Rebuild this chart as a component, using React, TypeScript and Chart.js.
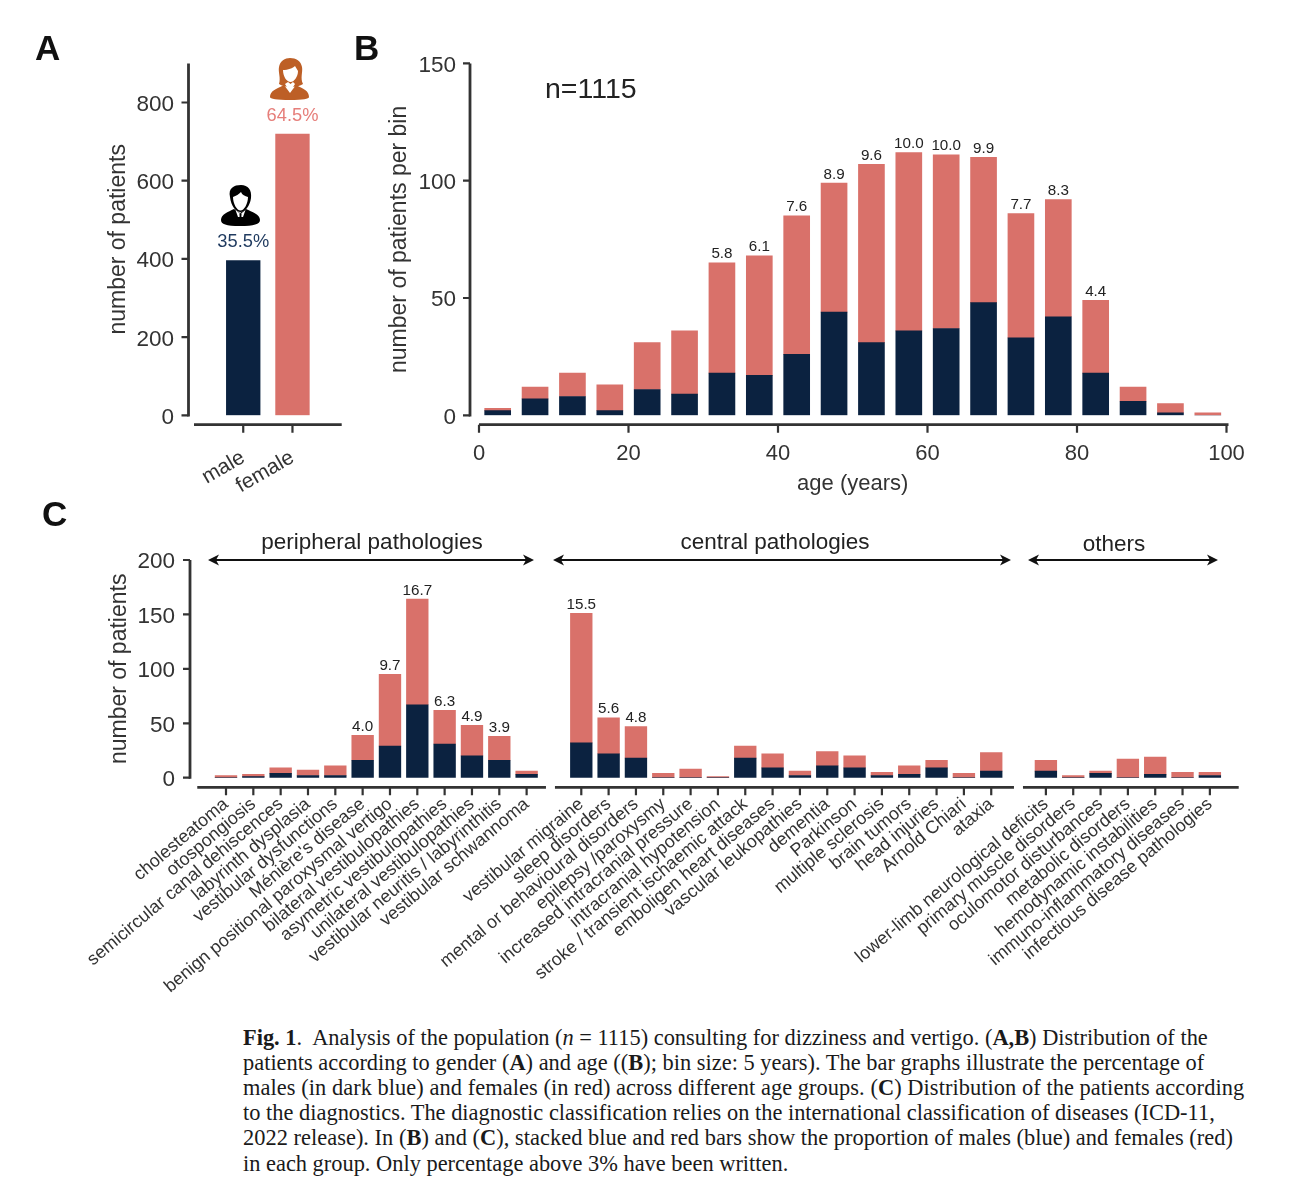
import React, { useEffect, useRef } from "react";
import { Chart, registerables } from "chart.js";

Chart.register(...registerables);

const NAVY = "#0b2240";
const RED = "#d9716a";
const INK = "#333333";
const SANS = "'Liberation Sans', Arial, sans-serif";

// Panel A
const genderLabels = ["", "male", "female", ""];
const genderCounts = [null, 396, 719, null];
const genderShares = [null, "35.5%", "64.5%", null];

// Panel B
const ageBins = [2.5, 7.5, 12.5, 17.5, 22.5, 27.5, 32.5, 37.5, 42.5, 47.5, 52.5, 57.5, 62.5, 67.5, 72.5, 77.5, 82.5, 87.5, 92.5, 97.5];
const ageMales = [2, 7, 8, 2, 11, 9, 18, 17, 26, 44, 31, 36, 37, 48, 33, 42, 18, 6, 1, 0];
const ageFemales = [1, 5, 10, 11, 20, 27, 47, 51, 59, 55, 76, 76, 74, 62, 53, 50, 31, 6, 4, 1];
const agePercents = [null, null, null, null, null, null, 5.8, 6.1, 7.6, 8.9, 9.6, 10.0, 10.0, 9.9, 7.7, 8.3, 4.4, null, null, null];

// Panel C
const peripheralLabels = ["cholesteatoma", "otospongiosis", "semicircular canal dehiscences", "labyrinth dysplasia", "vestibular dysfunctions", "Ménière's disease", "benign positional paroxysmal vertigo", "bilateral vestibulopathies", "asymetric vestibulopathies", "unilateral vestibulopathies", "vestibular neuritis / labyrinthitis", "vestibular schwannoma"];
const peripheralMales = [0, 1, 4, 2, 2, 16, 29, 67, 31, 20, 16, 3];
const peripheralFemales = [2, 2, 5, 5, 9, 23, 66, 97, 31, 28, 22, 3];
const peripheralPercents = [null, null, null, null, null, 4.0, 9.7, 16.7, 6.3, 4.9, 3.9, null];

const centralLabels = ["vestibular migraine", "sleep disorders", "mental or behavioural disorders", "epilepsy /paroxysmy", "increased intracranial pressure", "intracranial hypotension", "stroke / transient ischaemic attack", "emboligen heart diseases", "vascular leukopathies", "dementia", "Parkinson", "multiple sclerosis", "brain tumors", "head injuries", "Arnold Chiari", "ataxia"];
const centralMales = [32, 22, 18, 0, 0, 0, 18, 9, 2, 11, 9, 2, 3, 9, 0, 6];
const centralFemales = [119, 33, 29, 4, 8, 1, 11, 13, 4, 13, 11, 3, 8, 7, 4, 17];
const centralPercents = [15.5, 5.6, 4.8, null, null, null, null, null, null, null, null, null, null, null, null, null];

const otherLabels = ["lower-limb neurological deficits", "primary muscle disorders", "oculomotor disturbances", "metabolic disorders", "hemodynamic instabilities", "immuno-inflammatory diseases", "infectious disease pathologies"];
const otherMales = [6, 0, 4, 0, 3, 0, 2];
const otherFemales = [10, 2, 2, 17, 16, 5, 3];
const otherPercents = [null, null, null, null, null, null, null];

const joinGroups = (a: any[], b: any[], c: any[], gap: any) => [gap, ...a, gap, ...b, gap, ...c, gap];

type Box = { x: number; y: number; w: number; h: number };
type Area = { l: number; t: number; r: number; b: number };

// Layout that pins the plot area at page coordinates.
function placed(box: Box, area: Area) {
  return {
    padding: { left: 0, top: area.t - box.y, right: box.x + box.w - area.r, bottom: 0 },
    yWidth: area.l - box.x,
    xHeight: box.y + box.h - area.b,
  };
}

// Prism-style detached axes, drawn through the chart's scales.
function detachedAxes(axisX: number, axisY: number, segments: (s: any) => [number, number][]) {
  return {
    id: "detachedAxes",
    beforeDraw(chart: any) {
      // Tick numbers sit slightly below their tick marks in the reference.
      const items = chart.scales.y.getLabelItems();
      items.forEach((it: any) => {
        if (!it.options.__moved) {
          it.options.translation = [it.options.translation[0], it.options.translation[1] + 2.2];
          it.options.__moved = true;
        }
      });
    },
    afterDraw(chart: any) {
      const { ctx } = chart;
      const x = chart.scales.x;
      const y = chart.scales.y;
      ctx.save();
      ctx.strokeStyle = INK;
      ctx.lineCap = "butt";
      ctx.lineWidth = 2.8;
      ctx.beginPath();
      ctx.moveTo(axisX, y.top);
      ctx.lineTo(axisX, y.bottom + 1.1);
      for (const [a, b] of segments(x)) {
        ctx.moveTo(a, axisY);
        ctx.lineTo(b, axisY);
      }
      ctx.stroke();
      ctx.lineWidth = 2.2;
      ctx.beginPath();
      y.ticks.forEach((_: any, i: number) => {
        const p = y.getPixelForTick(i);
        ctx.moveTo(axisX, p);
        ctx.lineTo(axisX - 7, p);
      });
      x.ticks.forEach((t: any, i: number) => {
        if (t.label === "") return;
        const p = x.getPixelForTick(i);
        ctx.moveTo(p, axisY);
        ctx.lineTo(p, axisY + 8);
      });
      ctx.stroke();
      ctx.restore();
    },
  };
}

// Percentages written above each stacked bar.
function topLabels(values: any[], font: string, colors: (i: number) => string, gap: number) {
  return {
    id: "topLabels",
    afterDatasetsDraw(chart: any) {
      const { ctx } = chart;
      const last = chart.getDatasetMeta(chart.data.datasets.length - 1).data;
      ctx.save();
      ctx.font = font;
      ctx.textAlign = "center";
      ctx.textBaseline = "alphabetic";
      values.forEach((v, i) => {
        if (v === null || v === undefined) return;
        const bar = last[i];
        ctx.fillStyle = colors(i);
        ctx.fillText(typeof v === "number" ? v.toFixed(1) : v, bar.x, bar.y - gap);
      });
      ctx.restore();
    },
  };
}

function doubleArrow(ctx: any, a: number, b: number, y: number) {
  ctx.strokeStyle = "#111";
  ctx.fillStyle = "#111";
  ctx.lineWidth = 2;
  ctx.beginPath();
  ctx.moveTo(a + 4, y);
  ctx.lineTo(b - 4, y);
  ctx.stroke();
  ctx.beginPath();
  ctx.moveTo(a, y);
  ctx.lineTo(a + 11, y - 5.5);
  ctx.lineTo(a + 8, y);
  ctx.lineTo(a + 11, y + 5.5);
  ctx.closePath();
  ctx.moveTo(b, y);
  ctx.lineTo(b - 11, y - 5.5);
  ctx.lineTo(b - 8, y);
  ctx.lineTo(b - 11, y + 5.5);
  ctx.closePath();
  ctx.fill();
}

const groupHeaders = {
  id: "groupHeaders",
  afterDraw(chart: any) {
    const { ctx } = chart;
    const oy = 500;
    ctx.save();
    doubleArrow(ctx, 208, 534, 560 - oy);
    doubleArrow(ctx, 553, 1011, 560 - oy);
    doubleArrow(ctx, 1028, 1218, 560 - oy);
    ctx.fillStyle = "#222";
    ctx.font = `22.5px ${SANS}`;
    ctx.textAlign = "center";
    ctx.textBaseline = "alphabetic";
    ctx.fillText("peripheral pathologies", 372, 549 - oy);
    ctx.fillText("central pathologies", 775, 549 - oy);
    ctx.fillText("others", 1114, 551 - oy);
    ctx.restore();
  },
};

function yScale(max: number, step: number, layout: any, titleText: string, tickPad: number, titlePad: number) {
  return {
    min: 0,
    max,
    stacked: true,
    grid: { display: false, drawTicks: false },
    border: { display: false },
    ticks: { stepSize: step, includeBounds: false, padding: tickPad, color: INK, font: { family: SANS, size: 22.5 } },
    title: { display: true, text: titleText, color: INK, font: { family: SANS, size: 23 }, padding: { top: titlePad, bottom: 0 } },
    afterFit: (s: any) => { s.width = layout.yWidth; },
  };
}

function useChart(ref: any, make: () => any) {
  useEffect(() => {
    const chart = new Chart(ref.current, make());
    return () => chart.destroy();
  }, []);
}

const boxA: Box = { x: 80, y: 0, w: 305, h: 500 };
const boxB: Box = { x: 385, y: 0, w: 905, h: 500 };
const boxC: Box = { x: 0, y: 500, w: 1290, h: 520 };

const canvasStyle = (b: Box): React.CSSProperties => ({ position: "absolute", left: b.x, top: b.y, width: b.w, height: b.h });

const base = { responsive: false, animation: false as const, devicePixelRatio: 1 };
const noChrome = { legend: { display: false }, tooltip: { enabled: false }, title: { display: false } };

function PanelA() {
  const ref = useRef<HTMLCanvasElement>(null);
  useChart(ref, () => {
    const layout = placed(boxA, { l: 194, t: 63.4, r: 341.7, b: 415.3 });
    return {
      type: "bar",
      data: {
        labels: genderLabels,
        datasets: [{ data: genderCounts, backgroundColor: [NAVY, NAVY, RED, RED], barThickness: 33.7 }],
      },
      options: {
        ...base,
        layout: { padding: layout.padding },
        plugins: noChrome,
        scales: {
          x: {
            offset: false,
            grid: { display: false, drawTicks: false },
            border: { display: false },
            ticks: { autoSkip: false, minRotation: 30, maxRotation: 30, padding: 30, color: INK, font: { family: SANS, size: 21 } },
            afterFit: (s: any) => { s.height = layout.xHeight; },
          },
          y: yScale(900, 200, layout, "number of patients", 20, 24.5),
        },
      },
      plugins: [
        detachedAxes(188.5 - boxA.x, 424.7, (x) => [[x.left, x.right]]),
        topLabels(genderShares, `18.3px ${SANS}`, (i) => (i === 1 ? "#1f3a5f" : "#e67e7a"), 13),
      ],
    };
  });
  return <canvas ref={ref} width={boxA.w} height={boxA.h} style={canvasStyle(boxA)} />;
}

function PanelB() {
  const ref = useRef<HTMLCanvasElement>(null);
  useChart(ref, () => {
    const layout = placed(boxB, { l: 479, t: 63.4, r: 1226.5, b: 415.3 });
    return {
      type: "bar",
      data: {
        datasets: [
          { data: ageBins.map((x, i) => ({ x, y: ageMales[i] })), backgroundColor: NAVY, barThickness: 26 },
          { data: ageBins.map((x, i) => ({ x, y: ageFemales[i] })), backgroundColor: RED, barThickness: 26 },
        ],
      },
      options: {
        ...base,
        layout: { padding: layout.padding },
        plugins: noChrome,
        scales: {
          x: {
            type: "linear",
            offset: false,
            stacked: true,
            min: 0,
            max: 100,
            grid: { display: false, drawTicks: false },
            border: { display: false },
            ticks: { stepSize: 20, padding: 25, maxRotation: 0, color: INK, font: { family: SANS, size: 22 } },
            title: { display: true, text: "age (years)", color: INK, font: { family: SANS, size: 22 }, padding: { top: 0, bottom: 3 } },
            afterFit: (s: any) => { s.height = layout.xHeight; },
          },
          y: yScale(150, 50, layout, "number of patients per bin", 23, 1.2),
        },
      },
      plugins: [
        detachedAxes(470 - boxB.x, 424.7, (x) => [[x.left, x.right + 2]]),
        topLabels(agePercents, `15.2px ${SANS}`, () => "#222", 4.5),
      ],
    };
  });
  return <canvas ref={ref} width={boxB.w} height={boxB.h} style={canvasStyle(boxB)} />;
}

function PanelC() {
  const ref = useRef<HTMLCanvasElement>(null);
  useChart(ref, () => {
    const layout = placed(boxC, { l: 198.67, t: 560, r: 1237.2, b: 777.7 });
    const labels = joinGroups(peripheralLabels, centralLabels, otherLabels, "");
    const males = joinGroups(peripheralMales, centralMales, otherMales, null);
    const females = joinGroups(peripheralFemales, centralFemales, otherFemales, null);
    const percents = joinGroups(peripheralPercents, centralPercents, otherPercents, null);
    return {
      type: "bar",
      data: {
        labels,
        datasets: [
          { data: males, backgroundColor: NAVY, barThickness: 21.7 },
          { data: females, backgroundColor: RED, barThickness: 21.7 },
        ],
      },
      options: {
        ...base,
        layout: { padding: layout.padding },
        plugins: noChrome,
        scales: {
          x: {
            offset: false,
            stacked: true,
            grid: { display: false, drawTicks: false },
            border: { display: false },
            ticks: { autoSkip: false, minRotation: 40, maxRotation: 40, padding: 16, color: INK, font: { family: SANS, size: 18 } },
            afterFit: (s: any) => { s.height = layout.xHeight; },
          },
          y: yScale(200, 50, layout, "number of patients", 23.7, 106),
        },
      },
      plugins: [
        detachedAxes(190, 787.3 - boxC.y, (x) => [
          [x.getPixelForValue(0) - 1.4, x.getPixelForValue(13) - 8],
          [x.getPixelForValue(13) + 1, x.getPixelForValue(30) - 4.6],
          [x.getPixelForValue(30) + 4.4, x.getPixelForValue(38) + 1.5],
        ]),
        topLabels(percents, `15.2px ${SANS}`, () => "#222", 4.5),
        groupHeaders,
      ],
    };
  });
  return <canvas ref={ref} width={boxC.w} height={boxC.h} style={canvasStyle(boxC)} />;
}

function Icons() {
  return (
    <svg width={350} height={240} style={{ position: "absolute", left: 0, top: 0 }}>
      <g fill="#000">
        <path d="M221 220 C221 214 228 212 234 209 L240 213 L246 209 C252 212 260 214 260 220 C260 224 254 226 240 226 C226 226 221 224 221 220 Z" />
        <path d="M230 197 C228 188 234 185 241 185 C248 185 252 190 251 198 C250 206 245 212 240.500 212 C236 212 231 206 230 197 Z" />
        <path d="M233 197 C236 196 239 194 241 192 C242 195 245 196 248 197 C248 204 244 210.500 240.500 210.500 C237 210.500 233 204 233 197 Z" fill="#fff" />
        <path d="M235.500 210 L240.500 214 L245.500 210 L243 217 L238 217 Z" fill="#fff" />
        <path d="M239.400 213.500 L241.600 213.500 L241.400 216 L242.200 224 L240.500 226 L238.800 224 L239.600 216 Z" />
      </g>
      <g fill="#bd5f26">
        <path d="M279 84 C281 78 278 72 279 67 C280 61 285 58 290 58 C296 58 301 61 302 67 C303 72 300 78 303 84 C298 88 284 88 279 84 Z" />
        <path d="M270 97 C270 91 276 89 284 85 L290 93 L296 85 C304 89 309 91 309 97 C309 99 303 100 290 100 C277 100 270 99 270 97 Z" />
        <path d="M283 70 C288 70 293 68 295 66 C296 68 297 69 298 71 C298 77 294 82 290.500 82 C287 82 283 77 283 70 Z" fill="#fff" />
        <path d="M285 84 L290 92 L295 84 L293 82 L290.500 84 L288 82 Z" fill="#fff" />
      </g>
    </svg>
  );
}

const panelLetter = (t: string, x: number, y: number) => (
  <div key={t} style={{ position: "absolute", left: x, top: y, fontFamily: SANS, fontWeight: 700, fontSize: 35, lineHeight: "35px", color: "#111" }}>{t}</div>
);

const captionTops = [1025, 1050, 1075, 1100, 1125, 1151];
const captionSpacing = [0.01, 0.01, 0.06, 0.01, 0.03, 0];

function Caption() {
  const B = (t: string) => <b>{t}</b>;
  const lines = [
    <>{B("Fig. 1")}.&nbsp; Analysis of the population (<i>n</i> = 1115) consulting for dizziness and vertigo. ({B("A,B")}) Distribution of the</>,
    <>patients according to gender ({B("A")}) and age (({B("B")}); bin size: 5 years). The bar graphs illustrate the percentage of</>,
    <>males (in dark blue) and females (in red) across different age groups. ({B("C")}) Distribution of the patients according</>,
    <>to the diagnostics. The diagnostic classification relies on the international classification of diseases (ICD-11,</>,
    <>2022 release). In ({B("B")}) and ({B("C")}), stacked blue and red bars show the proportion of males (blue) and females (red)</>,
    <>in each group. Only percentage above 3% have been written.</>,
  ];
  return (
    <>
      {lines.map((l, i) => (
        <div key={i} style={{ position: "absolute", left: 243, top: captionTops[i], whiteSpace: "nowrap", fontFamily: "'Liberation Serif', serif", fontSize: 22.4, lineHeight: "26px", letterSpacing: captionSpacing[i], color: "#1a1a1a" }}>{l}</div>
      ))}
    </>
  );
}

export default function App() {
  return (
    <div style={{ position: "absolute", left: 0, top: 0, width: 1290, height: 1190, overflow: "hidden", background: "#fff" }}>
      <PanelA />
      <PanelB />
      <PanelC />
      <Icons />
      {panelLetter("A", 35, 30)}
      {panelLetter("B", 354, 30)}
      {panelLetter("C", 42, 496)}
      <div style={{ position: "absolute", left: 545, top: 72, fontFamily: SANS, fontSize: 28.5, lineHeight: "33px", color: "#222" }}>n=1115</div>
      <Caption />
    </div>
  );
}
